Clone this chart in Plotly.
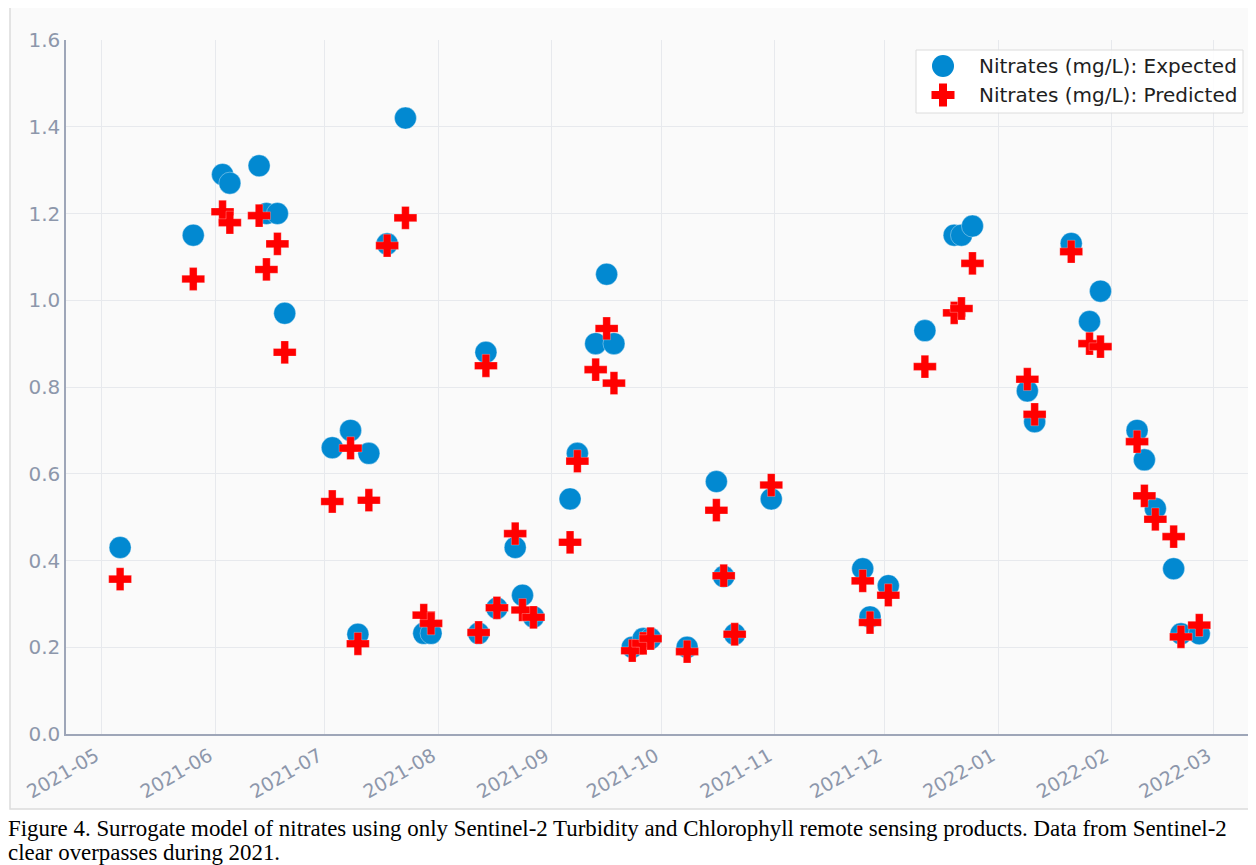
import plotly.graph_objects as go

dates = [
    "2021-05-06", "2021-05-26", "2021-06-03", "2021-06-05", "2021-06-13", "2021-06-15",
    "2021-06-18", "2021-06-20", "2021-07-03", "2021-07-08", "2021-07-10", "2021-07-13",
    "2021-07-18", "2021-07-23", "2021-07-28", "2021-07-30", "2021-08-12", "2021-08-14",
    "2021-08-17", "2021-08-22", "2021-08-24", "2021-08-27", "2021-09-06", "2021-09-08",
    "2021-09-13", "2021-09-16", "2021-09-18", "2021-09-23", "2021-09-26", "2021-09-28",
    "2021-10-08", "2021-10-16", "2021-10-18", "2021-10-21", "2021-10-31", "2021-11-25",
    "2021-11-27", "2021-12-02", "2021-12-12", "2021-12-20", "2021-12-22", "2021-12-25",
    "2022-01-09", "2022-01-11", "2022-01-21", "2022-01-26", "2022-01-29", "2022-02-08",
    "2022-02-10", "2022-02-13", "2022-02-18", "2022-02-20", "2022-02-25",
]

expected = [
    0.43, 1.15, 1.29, 1.27, 1.31, 1.20,
    1.20, 0.97, 0.66, 0.70, 0.23, 0.647,
    1.13, 1.42, 0.232, 0.232, 0.232, 0.88,
    0.29, 0.43, 0.32, 0.27, 0.542, 0.647,
    0.90, 1.06, 0.90, 0.20, 0.22, 0.22,
    0.20, 0.582, 0.363, 0.23, 0.542, 0.381,
    0.27, 0.342, 0.93, 1.15, 1.15, 1.171,
    0.791, 0.72, 1.131, 0.951, 1.021, 0.70,
    0.632, 0.52, 0.381, 0.231, 0.231,
]

predicted = [
    0.357, 1.049, 1.204, 1.179, 1.195, 1.071,
    1.13, 0.88, 0.536, 0.659, 0.208, 0.539,
    1.126, 1.19, 0.274, 0.255, 0.234, 0.849,
    0.291, 0.462, 0.286, 0.269, 0.442, 0.629,
    0.84, 0.935, 0.809, 0.192, 0.209, 0.22,
    0.19, 0.516, 0.365, 0.23, 0.574, 0.353,
    0.257, 0.32, 0.847, 0.971, 0.981, 1.085,
    0.818, 0.737, 1.112, 0.90, 0.893, 0.674,
    0.549, 0.495, 0.455, 0.224, 0.251,
]

y_ticks = [0.0, 0.2, 0.4, 0.6, 0.8, 1.0, 1.2, 1.4, 1.6]

series_names = ["Nitrates (mg/L): Expected", "Nitrates (mg/L): Predicted"]

caption_lines = [
    "Figure 4. Surrogate model of nitrates using only Sentinel-2 Turbidity and Chlorophyll "
    "remote sensing products. Data from Sentinel-2",
    "clear overpasses during 2021.",
]

# The page body has an 8px margin, so figure coords = screen coords - 8
OFF = 8
W, H = 1256 - OFF, 865 - OFF
ML, MT = 66 - OFF, 40 - OFF
MR = W - (1252 - OFF)
MB = H - (734 - OFF)
PW, PH = W - ML - MR, H - MT - MB


def px_x(sx):
    return (sx - OFF - ML) / PW


def px_y(sy):
    return (H - MB - (sy - OFF)) / PH


tick_col = "#8d97ab"
grid_col = "#e7e9ed"
axis_col = "#9ea6b8"
bg = "#fafafa"
blue = "#0289d1"
red = "#ff0000"

fig = go.Figure()
fig.add_trace(go.Scatter(
    x=dates, y=expected, mode="markers", name=series_names[0],
    marker=dict(symbol="circle", size=22, color=blue,
                line=dict(width=0.6, color="rgba(255,255,255,0.6)")),
))
fig.add_trace(go.Scatter(
    x=dates, y=predicted, mode="markers", name=series_names[1],
    marker=dict(symbol="cross", size=19, color=red,
                line=dict(width=0.5, color="rgba(255,255,255,0.5)")),
))

# figure panel
fig.add_shape(type="rect", xref="paper", yref="paper",
              x0=px_x(10), x1=px_x(1270), y0=px_y(809), y1=px_y(0),
              fillcolor=bg, line=dict(color="#dcdcdc", width=1.5), layer="below")

# legend (drawn as decoration)
fig.add_shape(type="rect", xref="paper", yref="paper",
              x0=px_x(916), x1=px_x(1243), y0=px_y(113), y1=px_y(50),
              fillcolor="rgba(255,255,255,0.85)", line=dict(color="#dcdcdc", width=1),
              layer="above")
cx, cy1, cy2 = 943, 66, 95
fig.add_shape(type="circle", xref="paper", yref="paper",
              x0=px_x(cx - 11), x1=px_x(cx + 11), y0=px_y(cy1 + 11), y1=px_y(cy1 - 11),
              fillcolor=blue, line=dict(width=0), layer="above")
a, t = 11.5, 4
cross_pts = [(t, a), (t, t), (a, t), (a, -t), (t, -t), (t, -a), (-t, -a), (-t, -t),
             (-a, -t), (-a, t), (-t, t), (-t, a)]
path = "M " + " L ".join(f"{px_x(cx + dx):.5f},{px_y(cy2 - dy):.5f}" for dx, dy in cross_pts) + " Z"
fig.add_shape(type="path", xref="paper", yref="paper", path=path,
              fillcolor=red, line=dict(width=0), layer="above")
for name, cy in zip(series_names, [cy1, cy2]):
    fig.add_annotation(text=name, xref="paper", yref="paper", x=px_x(977), y=px_y(cy),
                       xanchor="left", yanchor="middle", showarrow=False,
                       font=dict(family="DejaVu Sans, sans-serif", size=20, color="#1e1e1e"))

for line, sy in zip(caption_lines, [828, 852]):
    fig.add_annotation(
        text=line, xref="paper", yref="paper", x=px_x(6), y=px_y(sy),
        xanchor="left", yanchor="middle", align="left", showarrow=False,
        font=dict(family="Liberation Serif, Times New Roman, serif", size=22.9, color="#000000"),
    )

fig.update_layout(
    width=W, height=H,
    margin=dict(l=ML, r=MR, t=MT, b=MB),
    paper_bgcolor="#ffffff",
    plot_bgcolor=bg,
    font=dict(family="DejaVu Sans, sans-serif", size=19, color=tick_col),
    showlegend=False,
    xaxis=dict(
        type="date",
        range=["2021-04-21 05:00", "2022-03-11 10:00"],
        dtick="M1", tick0="2021-05-01", tickformat="%Y-%m",
        tickangle=-30, ticklabelshift=-6, ticklabelstandoff=2,
        showgrid=True, gridcolor=grid_col, gridwidth=1,
        showline=True, linecolor=axis_col, linewidth=1.5,
        zeroline=False, ticks="",
        tickfont=dict(size=19, color=tick_col),
    ),
    yaxis=dict(
        range=[0, 1.6],
        tickvals=y_ticks, ticktext=[f"{v:.1f}" for v in y_ticks],
        showgrid=True, gridcolor=grid_col, gridwidth=1,
        showline=True, linecolor=axis_col, linewidth=1.5,
        zeroline=False, ticks="", ticklabelstandoff=0,
        tickfont=dict(size=20, color=tick_col),
    ),
)

fig.write_html("out.html")
